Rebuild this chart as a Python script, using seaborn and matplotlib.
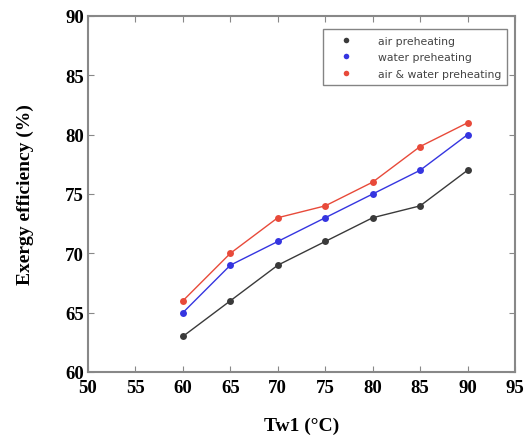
import matplotlib
matplotlib.use("Agg")
import matplotlib.pyplot as plt
import seaborn as sns
import pandas as pd

tw1 = [60, 65, 70, 75, 80, 85, 90]
air = [63, 66, 69, 71, 73, 74, 77]
water = [65, 69, 71, 73, 75, 77, 80]
air_water = [66, 70, 73, 74, 76, 79, 81]
series_names = ["air preheating", "water preheating", "air & water preheating"]
colors = ["#3a3a3a", "#3535e0", "#e84a3a"]
xticks = [50, 55, 60, 65, 70, 75, 80, 85, 90, 95]
yticks = [60, 65, 70, 75, 80, 85, 90]

sns.set_theme(style="ticks")
plt.rcParams['font.family'] = ['Liberation Serif', 'DejaVu Serif']
plt.rcParams['text.color'] = 'black'
plt.rcParams['axes.labelcolor'] = 'black'

df = pd.DataFrame({
    "Tw1": tw1 * 3,
    "eff": air + water + air_water,
    "series": [series_names[0]] * 7 + [series_names[1]] * 7 + [series_names[2]] * 7,
})

fig = plt.figure(figsize=(5.32, 4.39), dpi=100)
ax = fig.add_axes([88/532, 1 - 373/439, (515-88)/532, (373-17)/439])

sns.lineplot(data=df, x="Tw1", y="eff", hue="series", hue_order=series_names,
             palette=colors, marker="o", markersize=5, markeredgewidth=0,
             linewidth=1.0, ax=ax, legend=False)

ax.set_xlim(50, 95)
ax.set_ylim(60, 90)
ax.set_xticks(xticks)
ax.set_yticks(yticks)
ax.tick_params(direction="in", length=4, width=0.8, colors="#888888", labelcolor="black",
               top=True, right=True, labelsize=13.5)
ax.tick_params(axis="x", pad=5)
ax.tick_params(axis="y", pad=3)
for lab in ax.get_xticklabels() + ax.get_yticklabels():
    lab.set_fontweight("bold")
for s in ax.spines.values():
    s.set_color("#888888")
    s.set_linewidth(1.5)

ax.set_xlabel("Tw1 (°C)", fontsize=14, fontweight="bold", labelpad=15)
ax.set_ylabel("Exergy efficiency (%)", fontsize=14, fontweight="bold", labelpad=22)

from matplotlib.lines import Line2D
handles = [Line2D([], [], linestyle="none", marker="o", markersize=4, color=c, markeredgewidth=0) for c in colors]
leg = ax.legend(handles, series_names, loc="upper right", bbox_to_anchor=(0.995, 0.978),
                prop={"family": "DejaVu Sans", "size": 7.8}, frameon=True, fancybox=False,
                handletextpad=1.4, borderpad=0.6, labelspacing=0.6, handlelength=3.0)
leg.get_frame().set_edgecolor("#666666")
leg.get_frame().set_linewidth(1.0)
for t in leg.get_texts():
    t.set_color("#444444")

fig.savefig("out.png", dpi=100)
